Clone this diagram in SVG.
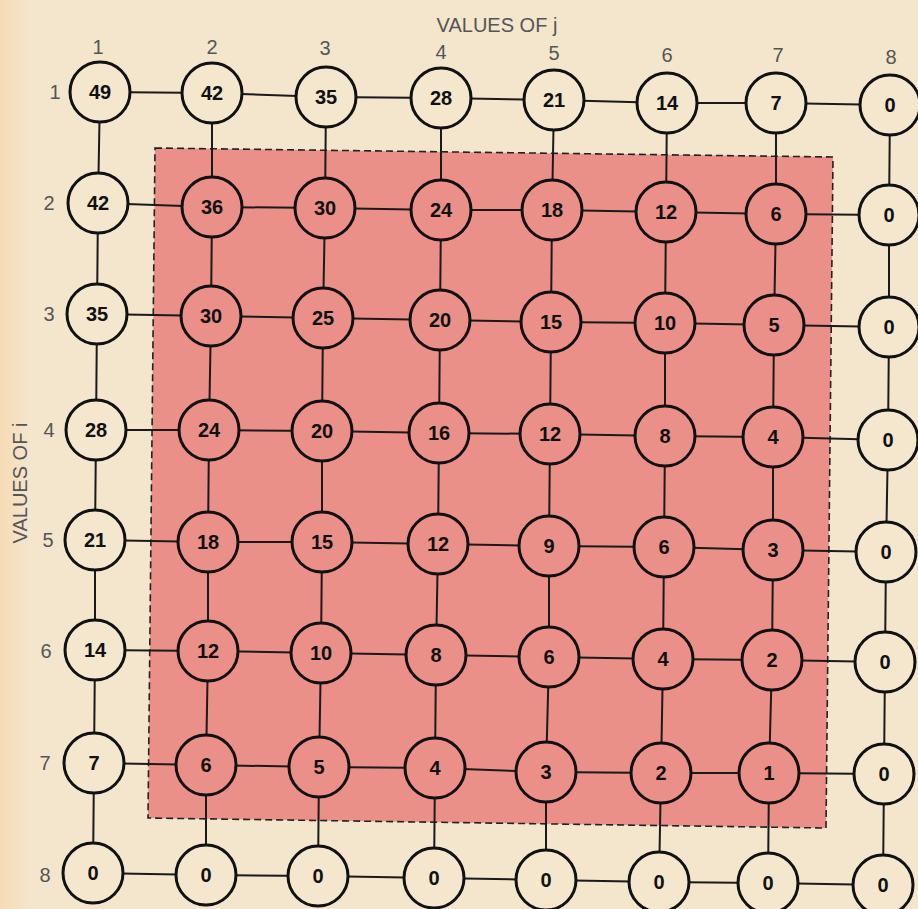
<svg xmlns="http://www.w3.org/2000/svg" width="918" height="909" viewBox="0 0 918 909">
<defs>
<linearGradient id="edgeglow" x1="0" y1="0" x2="1" y2="0">
<stop offset="0" stop-color="#f8d8b0" stop-opacity="0.8"/>
<stop offset="1" stop-color="#f8d8b0" stop-opacity="0"/>
</linearGradient>
</defs>
<style>
.bg{fill:#f3e6cd}
.edge{stroke:#1a1a1a;stroke-width:2;fill:none}
.n circle{stroke:#111;stroke-width:3}
.w circle{fill:#f4e7ce}
.p circle{fill:#ea9088}
.n text{font-family:"Liberation Sans",Arial,sans-serif;font-weight:bold;font-size:20px;fill:#111;text-anchor:middle;dominant-baseline:central}
.lbl{font-family:"Liberation Sans",Arial,sans-serif;font-size:20px;fill:#555;text-anchor:middle;dominant-baseline:central}
</style>
<rect class="bg" x="0" y="0" width="918" height="909"/>
<rect x="0" y="0" width="30" height="909" fill="url(#edgeglow)"/>
<polygon points="155,148 833,157 826,828 148,818" fill="#ea9088" stroke="#222" stroke-width="1.6" stroke-dasharray="7,4"/>
<text class="lbl" x="497" y="25">VALUES OF j</text>
<text class="lbl" transform="translate(20,483) rotate(-90)">VALUES OF i</text>
<g id="col-labels">
<text class="lbl" x="98" y="47">1</text><text class="lbl" x="212" y="47">2</text><text class="lbl" x="325" y="48">3</text><text class="lbl" x="441" y="52">4</text><text class="lbl" x="554" y="53">5</text><text class="lbl" x="667" y="55">6</text><text class="lbl" x="778" y="55">7</text><text class="lbl" x="891" y="57">8</text>
</g>
<g id="row-labels">
<text class="lbl" x="55" y="92">1</text><text class="lbl" x="49" y="203">2</text><text class="lbl" x="49" y="314">3</text><text class="lbl" x="49" y="430">4</text><text class="lbl" x="48" y="540">5</text><text class="lbl" x="46" y="651">6</text><text class="lbl" x="45" y="763">7</text><text class="lbl" x="45" y="875">8</text>
</g>
<g id="connectors" class="edge">
<polyline points="100,92 212,93 326,97 441,98 554,100 667,103 776,103 890,105"/>
<polyline points="98,203 212,207 325,208 441,210 552,210 666,212 776,214 889,215"/>
<polyline points="97,314 211,316 323,318 440,320 551,322 665,323 774,325 889,327"/>
<polyline points="96,430 209,430 322,431 439,433 550,434 665,436 773,437 888,440"/>
<polyline points="95,540 208,542 322,542 438,544 549,546 664,547 773,550 886,552"/>
<polyline points="95,650 208,651 321,653 436,655 549,657 663,659 772,660 885,662"/>
<polyline points="94,763 206,765 319,767 435,768 546,772 661,773 769,773 884,774"/>
<polyline points="93,873 206,875 318,876 434,878 546,880 659,882 768,883 883,885"/>
<polyline points="100,92 98,203 97,314 96,430 95,540 95,650 94,763 93,873"/>
<polyline points="212,93 212,207 211,316 209,430 208,542 208,651 206,765 206,875"/>
<polyline points="326,97 325,208 323,318 322,431 322,542 321,653 319,767 318,876"/>
<polyline points="441,98 441,210 440,320 439,433 438,544 436,655 435,768 434,878"/>
<polyline points="554,100 552,210 551,322 550,434 549,546 549,657 546,772 546,880"/>
<polyline points="667,103 666,212 665,323 665,436 664,547 663,659 661,773 659,882"/>
<polyline points="776,103 776,214 774,325 773,437 773,550 772,660 769,773 768,883"/>
<polyline points="890,105 889,215 889,327 888,440 886,552 885,662 884,774 883,885"/>
</g>
<g id="n11" class="n w"><circle cx="100" cy="92" r="30"/><text x="100" y="92">49</text></g>
<g id="n12" class="n w"><circle cx="212" cy="93" r="30"/><text x="212" y="93">42</text></g>
<g id="n13" class="n w"><circle cx="326" cy="97" r="30"/><text x="326" y="97">35</text></g>
<g id="n14" class="n w"><circle cx="441" cy="98" r="30"/><text x="441" y="98">28</text></g>
<g id="n15" class="n w"><circle cx="554" cy="100" r="30"/><text x="554" y="100">21</text></g>
<g id="n16" class="n w"><circle cx="667" cy="103" r="30"/><text x="667" y="103">14</text></g>
<g id="n17" class="n w"><circle cx="776" cy="103" r="30"/><text x="776" y="103">7</text></g>
<g id="n18" class="n w"><circle cx="890" cy="105" r="30"/><text x="890" y="105">0</text></g>
<g id="n21" class="n w"><circle cx="98" cy="203" r="30"/><text x="98" y="203">42</text></g>
<g id="n22" class="n p"><circle cx="212" cy="207" r="30"/><text x="212" y="207">36</text></g>
<g id="n23" class="n p"><circle cx="325" cy="208" r="30"/><text x="325" y="208">30</text></g>
<g id="n24" class="n p"><circle cx="441" cy="210" r="30"/><text x="441" y="210">24</text></g>
<g id="n25" class="n p"><circle cx="552" cy="210" r="30"/><text x="552" y="210">18</text></g>
<g id="n26" class="n p"><circle cx="666" cy="212" r="30"/><text x="666" y="212">12</text></g>
<g id="n27" class="n p"><circle cx="776" cy="214" r="30"/><text x="776" y="214">6</text></g>
<g id="n28" class="n w"><circle cx="889" cy="215" r="30"/><text x="889" y="215">0</text></g>
<g id="n31" class="n w"><circle cx="97" cy="314" r="30"/><text x="97" y="314">35</text></g>
<g id="n32" class="n p"><circle cx="211" cy="316" r="30"/><text x="211" y="316">30</text></g>
<g id="n33" class="n p"><circle cx="323" cy="318" r="30"/><text x="323" y="318">25</text></g>
<g id="n34" class="n p"><circle cx="440" cy="320" r="30"/><text x="440" y="320">20</text></g>
<g id="n35" class="n p"><circle cx="551" cy="322" r="30"/><text x="551" y="322">15</text></g>
<g id="n36" class="n p"><circle cx="665" cy="323" r="30"/><text x="665" y="323">10</text></g>
<g id="n37" class="n p"><circle cx="774" cy="325" r="30"/><text x="774" y="325">5</text></g>
<g id="n38" class="n w"><circle cx="889" cy="327" r="30"/><text x="889" y="327">0</text></g>
<g id="n41" class="n w"><circle cx="96" cy="430" r="30"/><text x="96" y="430">28</text></g>
<g id="n42" class="n p"><circle cx="209" cy="430" r="30"/><text x="209" y="430">24</text></g>
<g id="n43" class="n p"><circle cx="322" cy="431" r="30"/><text x="322" y="431">20</text></g>
<g id="n44" class="n p"><circle cx="439" cy="433" r="30"/><text x="439" y="433">16</text></g>
<g id="n45" class="n p"><circle cx="550" cy="434" r="30"/><text x="550" y="434">12</text></g>
<g id="n46" class="n p"><circle cx="665" cy="436" r="30"/><text x="665" y="436">8</text></g>
<g id="n47" class="n p"><circle cx="773" cy="437" r="30"/><text x="773" y="437">4</text></g>
<g id="n48" class="n w"><circle cx="888" cy="440" r="30"/><text x="888" y="440">0</text></g>
<g id="n51" class="n w"><circle cx="95" cy="540" r="30"/><text x="95" y="540">21</text></g>
<g id="n52" class="n p"><circle cx="208" cy="542" r="30"/><text x="208" y="542">18</text></g>
<g id="n53" class="n p"><circle cx="322" cy="542" r="30"/><text x="322" y="542">15</text></g>
<g id="n54" class="n p"><circle cx="438" cy="544" r="30"/><text x="438" y="544">12</text></g>
<g id="n55" class="n p"><circle cx="549" cy="546" r="30"/><text x="549" y="546">9</text></g>
<g id="n56" class="n p"><circle cx="664" cy="547" r="30"/><text x="664" y="547">6</text></g>
<g id="n57" class="n p"><circle cx="773" cy="550" r="30"/><text x="773" y="550">3</text></g>
<g id="n58" class="n w"><circle cx="886" cy="552" r="30"/><text x="886" y="552">0</text></g>
<g id="n61" class="n w"><circle cx="95" cy="650" r="30"/><text x="95" y="650">14</text></g>
<g id="n62" class="n p"><circle cx="208" cy="651" r="30"/><text x="208" y="651">12</text></g>
<g id="n63" class="n p"><circle cx="321" cy="653" r="30"/><text x="321" y="653">10</text></g>
<g id="n64" class="n p"><circle cx="436" cy="655" r="30"/><text x="436" y="655">8</text></g>
<g id="n65" class="n p"><circle cx="549" cy="657" r="30"/><text x="549" y="657">6</text></g>
<g id="n66" class="n p"><circle cx="663" cy="659" r="30"/><text x="663" y="659">4</text></g>
<g id="n67" class="n p"><circle cx="772" cy="660" r="30"/><text x="772" y="660">2</text></g>
<g id="n68" class="n w"><circle cx="885" cy="662" r="30"/><text x="885" y="662">0</text></g>
<g id="n71" class="n w"><circle cx="94" cy="763" r="30"/><text x="94" y="763">7</text></g>
<g id="n72" class="n p"><circle cx="206" cy="765" r="30"/><text x="206" y="765">6</text></g>
<g id="n73" class="n p"><circle cx="319" cy="767" r="30"/><text x="319" y="767">5</text></g>
<g id="n74" class="n p"><circle cx="435" cy="768" r="30"/><text x="435" y="768">4</text></g>
<g id="n75" class="n p"><circle cx="546" cy="772" r="30"/><text x="546" y="772">3</text></g>
<g id="n76" class="n p"><circle cx="661" cy="773" r="30"/><text x="661" y="773">2</text></g>
<g id="n77" class="n p"><circle cx="769" cy="773" r="30"/><text x="769" y="773">1</text></g>
<g id="n78" class="n w"><circle cx="884" cy="774" r="30"/><text x="884" y="774">0</text></g>
<g id="n81" class="n w"><circle cx="93" cy="873" r="30"/><text x="93" y="873">0</text></g>
<g id="n82" class="n w"><circle cx="206" cy="875" r="30"/><text x="206" y="875">0</text></g>
<g id="n83" class="n w"><circle cx="318" cy="876" r="30"/><text x="318" y="876">0</text></g>
<g id="n84" class="n w"><circle cx="434" cy="878" r="30"/><text x="434" y="878">0</text></g>
<g id="n85" class="n w"><circle cx="546" cy="880" r="30"/><text x="546" y="880">0</text></g>
<g id="n86" class="n w"><circle cx="659" cy="882" r="30"/><text x="659" y="882">0</text></g>
<g id="n87" class="n w"><circle cx="768" cy="883" r="30"/><text x="768" y="883">0</text></g>
<g id="n88" class="n w"><circle cx="883" cy="885" r="30"/><text x="883" y="885">0</text></g>
</svg>
